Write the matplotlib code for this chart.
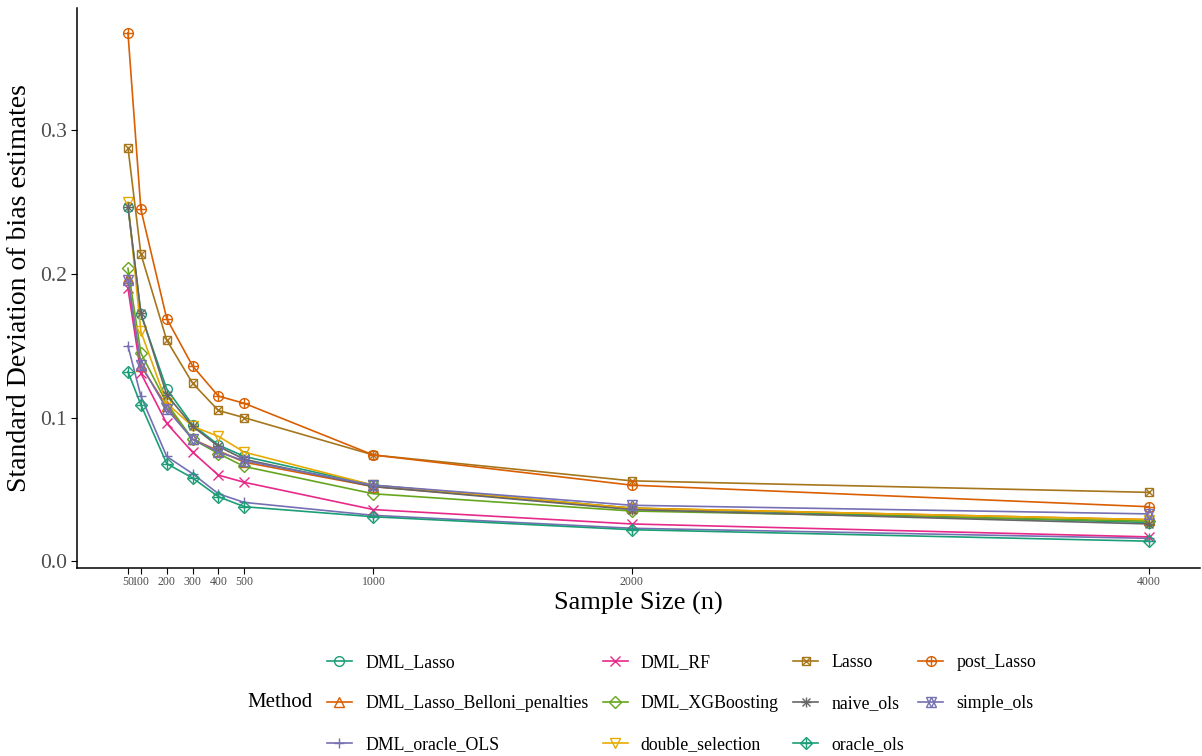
import matplotlib.pyplot as plt
import numpy as np

plt.rcParams['font.family'] = ['Liberation Serif', 'DejaVu Serif']

# sample sizes
sample_n = [50, 100, 200, 300, 400, 500, 1000, 2000, 4000]

# standard deviation of bias estimates
dml_lasso = [0.247, 0.172, 0.120, 0.095, 0.081, 0.073, 0.053, 0.037, 0.027]
dml_lasso_belloni = [0.197, 0.136, 0.108, 0.085, 0.077, 0.069, 0.052, 0.037, 0.029]
dml_oracle_ols = [0.150, 0.115, 0.073, 0.061, 0.047, 0.041, 0.032, 0.023, 0.016]
dml_rf = [0.190, 0.131, 0.096, 0.076, 0.060, 0.055, 0.036, 0.026, 0.017]
dml_xgb = [0.204, 0.145, 0.110, 0.085, 0.075, 0.066, 0.047, 0.035, 0.028]
double_selection = [0.250, 0.160, 0.110, 0.094, 0.087, 0.076, 0.053, 0.037, 0.029]
lasso = [0.288, 0.214, 0.154, 0.124, 0.105, 0.100, 0.074, 0.056, 0.048]
naive_ols = [0.247, 0.173, 0.116, 0.094, 0.080, 0.071, 0.052, 0.036, 0.026]
oracle_ols = [0.132, 0.109, 0.068, 0.058, 0.045, 0.038, 0.031, 0.022, 0.014]
post_lasso = [0.368, 0.245, 0.169, 0.136, 0.115, 0.110, 0.074, 0.053, 0.038]
simple_ols = [0.196, 0.137, 0.106, 0.085, 0.076, 0.070, 0.053, 0.039, 0.033]

# (label, values, colour, main marker, overlay marker)
series = [
    ("DML_Lasso", dml_lasso, "#1B9E77", "o", None),
    ("DML_Lasso_Belloni_penalties", dml_lasso_belloni, "#D95F02", "^", None),
    ("DML_oracle_OLS", dml_oracle_ols, "#7570B3", "+", None),
    ("DML_RF", dml_rf, "#E7298A", "x", None),
    ("DML_XGBoosting", dml_xgb, "#66A61E", "D", None),
    ("double_selection", double_selection, "#E6AB02", "v", None),
    ("Lasso", lasso, "#A6761D", "s", "x"),
    ("naive_ols", naive_ols, "#666666", "+", "x"),
    ("oracle_ols", oracle_ols, "#1B9E77", "D", "+"),
    ("post_Lasso", post_lasso, "#D95F02", "o", "+"),
    ("simple_ols", simple_ols, "#7570B3", "^", "v"),
]

fig = plt.figure(figsize=(12.02, 7.56), dpi=100)
ax = fig.add_axes([0.064, 0.249, 0.934, 0.740])

handles = []
labels = []
for name, vals, col, m1, m2 in series:
    ms = 6.0 if m1 in ("D", "s") else 7.0
    line, = ax.plot(sample_n, vals, color=col, lw=1.2, marker=m1, ms=ms,
                    mfc="none", mec=col, mew=1.0)
    h = line
    if m2 is not None:
        over, = ax.plot(sample_n, vals, color=col, ls="none", marker=m2,
                        ms=5.5 if m2 == "x" else 6.5, mfc="none", mec=col, mew=1.0)
        h = (line, over)
    handles.append(h)
    labels.append(name)

ax.set_xlim(-147.5, 4197.5)
ax.set_ylim(-0.0045, 0.385)
ax.set_xticks(sample_n)
ax.set_xticklabels(["50", "100", "200", "300", "400", "500", "1000", "2000", "4000"])
ax.set_yticks([0.0, 0.1, 0.2, 0.3])
ax.set_yticklabels(["0.0", "0.1", "0.2", "0.3"])
ax.tick_params(axis="x", labelsize=8.5, length=4, pad=2)
ax.tick_params(axis="y", labelsize=15.5, length=4, pad=3)
ax.tick_params(colors="black", which="both", labelcolor="#4D4D4D")
for s in ("top", "right"):
    ax.spines[s].set_visible(False)
for s in ("left", "bottom"):
    ax.spines[s].set_linewidth(1.1)

ax.set_xlabel("Sample Size (n)", fontsize=19, labelpad=3)
ax.set_ylabel("Standard Deviation of bias estimates", fontsize=20, labelpad=6)

leg = fig.legend(handles, labels, ncol=4, loc="center left",
                 bbox_to_anchor=(0.272, 0.069), frameon=False, fontsize=12.8,
                 handlelength=1.4, handletextpad=0.75, columnspacing=0.8,
                 labelspacing=1.36, borderaxespad=0.0, borderpad=0.0)
fig.text(0.206, 0.0714, "Method", fontsize=15, va="center", ha="left")

fig.savefig("out.png", dpi=100)
